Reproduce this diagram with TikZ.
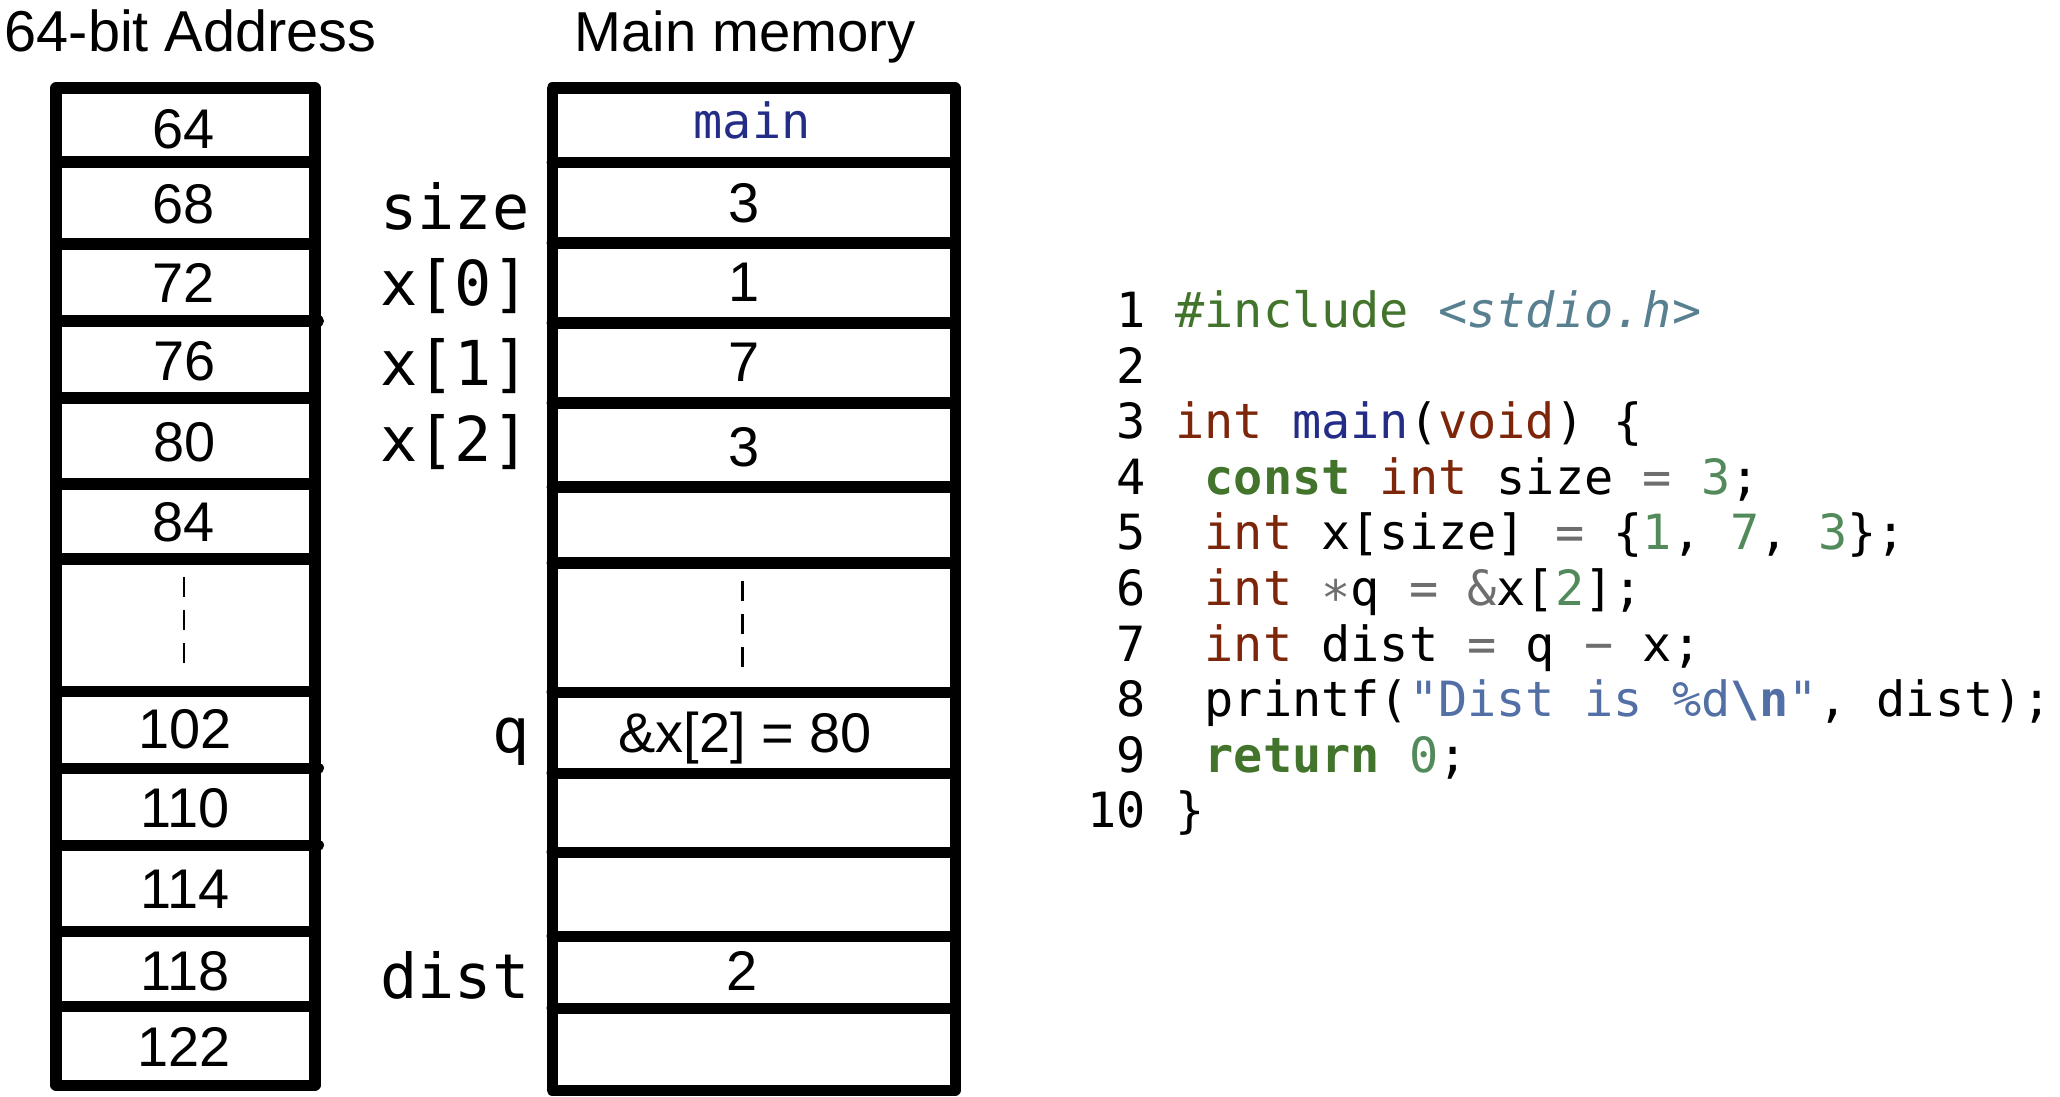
\documentclass[tikz,border=0pt]{standalone}
\usepackage{fontspec}
\setmainfont{Liberation Sans}
\newfontfamily\codefont{DejaVu Sans Mono}
\definecolor{inclc}{RGB}{66,116,44}
\definecolor{hdrc}{RGB}{88,128,145}
\definecolor{tyc}{RGB}{125,38,10}
\definecolor{fnc}{RGB}{35,45,135}
\definecolor{nmc}{RGB}{82,138,92}
\definecolor{opc}{RGB}{110,110,110}
\definecolor{strc}{RGB}{82,112,165}
\newcommand{\ty}[1]{\textcolor{tyc}{#1}}
\newcommand{\fn}[1]{\textcolor{fnc}{#1}}
\newcommand{\nm}[1]{\textcolor{nmc}{#1}}
\newcommand{\op}[1]{\textcolor{opc}{#1}}
\newcommand{\kwb}[1]{\textcolor{inclc}{\textbf{#1}}}
\newcommand{\str}[1]{\textcolor{strc}{#1}}
\begin{document}
\begin{tikzpicture}[x=0.01cm,y=-0.01cm,
  box/.style={line width=3.13pt, line join=round},
  divider/.style={line width=3.13pt, line cap=round},
  num/.style={font=\fontsize{15.9}{18}\selectfont, anchor=base, inner sep=0pt},
  lbl/.style={font=\codefont\fontsize{17.6}{20}\selectfont, anchor=base east, inner sep=0pt},
  codeline/.style={font=\codefont\fontsize{13.8}{16}\selectfont, anchor=base west, inner sep=0pt},
  title/.style={font=\fontsize{16}{18}\selectfont, anchor=base west, inner sep=0pt},
  dotted line/.style={line width=0.85pt, dash pattern=on 5.7pt off 3.7pt}]
\useasboundingbox (0,0) rectangle (2060,1097);

% titles
\node[title, font=\fontsize{16.4}{18}\selectfont] (t1) at (4,52) {64-bit Address};
\node[title] (t2) at (574,52) {Main memory};

% left column
\draw[box] (56,88) rectangle (315,1085);
\foreach \y in {162,244,398,484,559,691,931.5,1006.5}
  \draw[divider] (56,\y) -- (315,\y);
\foreach \y in {321,768,845}
  \draw[divider] (56,\y) -- (318.5,\y);

\node[num] (a64) at (184,148.5) {64};
\node[num] (a68) at (184,224) {68};
\node[num] (a72) at (184,303) {72};
\node[num] (a76) at (185,380) {76};
\node[num] (a80) at (185,461) {80};
\node[num] (a84) at (184,541) {84};
\node[num] (a102) at (185,748) {102};
\node[num] (a110) at (185,827) {110};
\node[num] (a114) at (185,908) {114};
\node[num] (a118) at (185,990) {118};
\node[num] (a122) at (184,1066) {122};
\coordinate (ld1) at (184,577);
\coordinate (ld2) at (184,664);
\draw[dotted line] (ld1) -- (ld2);

% right column
\draw[box] (552,88) rectangle (955,1090);
\foreach \y in {162.5,243,323,403,487,563,692,773,852,936,1008}
  \draw[divider] (552,\y) -- (955,\y);

\node[font=\codefont\fontsize{13.8}{16}\selectfont, anchor=base, inner sep=0pt, text=fnc] (mmain) at (752,139) {main};
\node[num] (msize) at (744,222.5) {3};
\node[num] (mx0) at (744,301) {1};
\node[num] (mx1) at (744,381) {7};
\node[num] (mx2) at (744,466) {3};
\node[num] (mq) at (745,752) {\&x[2] = 80};
\node[num] (mdist) at (742,990) {2};
\coordinate (rd1) at (742,581);
\coordinate (rd2) at (742,667);
\draw[dotted line] (rd1) -- (rd2);

% variable labels
\node[lbl] (lsize) at (530,229.6) {size};
\node[lbl] (lx0) at (530,306) {x[0]};
\node[lbl] (lx1) at (530,386) {x[1]};
\node[lbl] (lx2) at (530,461) {x[2]};
\node[lbl] (lq) at (530,752.5) {q};
\node[lbl] (ldist) at (530,998) {dist};

% code
\node[codeline] (c1) at (1087,327.5) {~1~\textcolor{inclc}{\#include}~\textcolor{hdrc}{\textit{<stdio.h>}}};
\node[codeline] (c2) at (1087,383.1) {~2};
\node[codeline] (c3) at (1087,438.7) {~3~\ty{int}~\fn{main}(\ty{void})~\{};
\node[codeline] (c4) at (1087,494.3) {~4~~\kwb{const}~\ty{int}~size~\op{=}~\nm{3};};
\node[codeline] (c5) at (1087,549.9) {~5~~\ty{int}~x[size]~\op{=}~\{\nm{1},~\nm{7},~\nm{3}\};};
\node[codeline] (c6) at (1087,605.5) {~6~~\ty{int}~\op{∗}q~\op{=}~\op{\&}x[\nm{2}];};
\node[codeline] (c7) at (1087,661.1) {~7~~\ty{int}~dist~\op{=}~q~\op{−}~x;};
\node[codeline] (c8) at (1087,716.7) {~8~~printf(\str{"Dist~is~\%d\textbf{\textbackslash n}"},~dist);};
\node[codeline] (c9) at (1087,772.3) {~9~~\kwb{return}~\nm{0};};
\node[codeline] (c10) at (1087,827.9) {10~\}};
\end{tikzpicture}
\end{document}
